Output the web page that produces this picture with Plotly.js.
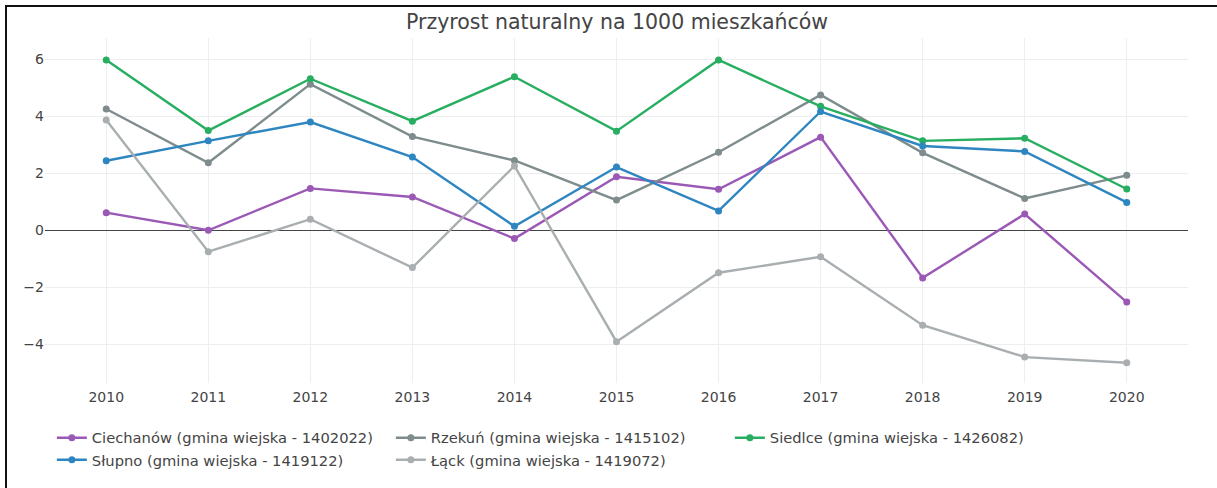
<!DOCTYPE html>
<html>
<head>
<meta charset="utf-8">
<script src="https://cdn.plot.ly/plotly-3.0.1.min.js"></script>
<style>
html,body{margin:0;padding:0;background:#fff;}
#wrap{position:relative;width:1217px;height:488px;overflow:hidden;}
#chart{position:absolute;left:0;top:0;width:1217px;height:488px;}
#frame{position:absolute;left:5px;top:5px;width:1300px;height:600px;border-left:2px solid #111;border-top:2px solid #111;pointer-events:none;}
</style>
</head>
<body>
<div id="wrap"><div id="chart"></div><div id="frame"></div></div>
<script>
const years = [2010, 2011, 2012, 2013, 2014, 2015, 2016, 2017, 2018, 2019, 2020];
const seriesNames = [
  "Ciechanów (gmina wiejska - 1402022)",
  "Rzekuń (gmina wiejska - 1415102)",
  "Siedlce (gmina wiejska - 1426082)",
  "Słupno (gmina wiejska - 1419122)",
  "Łąck (gmina wiejska - 1419072)"
];
const ciechanow = [0.62, 0.00, 1.47, 1.17, -0.29, 1.88, 1.44, 3.27, -1.67, 0.57, -2.52];
const rzekun    = [4.26, 2.37, 5.13, 3.29, 2.45, 1.06, 2.74, 4.75, 2.72, 1.12, 1.93];
const siedlce   = [5.98, 3.50, 5.32, 3.83, 5.39, 3.48, 5.98, 4.35, 3.14, 3.23, 1.45];
const slupno    = [2.44, 3.14, 3.80, 2.57, 0.14, 2.22, 0.68, 4.17, 2.96, 2.77, 0.98];
const lack      = [3.87, -0.75, 0.39, -1.31, 2.26, -3.91, -1.49, -0.93, -3.33, -4.45, -4.65];
const seriesValues = [ciechanow, rzekun, siedlce, slupno, lack];
const colors = ["#9b59b6", "#7f8c8d", "#27ae60", "#2e86c1", "#a9aeb1"];

const traces = seriesNames.map((n, i) => ({
  type: "scatter",
  mode: "lines+markers",
  name: n,
  x: years,
  y: seriesValues[i],
  line: {color: colors[i], width: 2.4},
  marker: {color: colors[i], size: 7}
}));

const layout = {
  width: 1217, height: 488,
  margin: {l: 45, r: 29, t: 38, b: 105, autoexpand: false},
  paper_bgcolor: "#fff", plot_bgcolor: "#fff",
  font: {family: "DejaVu Sans, sans-serif", color: "#444", size: 14},
  title: {text: "Przyrost naturalny na 1000 mieszkańców", x: 0.507, xanchor: "center", y: 0.955, yanchor: "middle",
          font: {size: 20.5, color: "#444"}},
  xaxis: {range: [2009.4, 2020.6], tickvals: years, ticktext: years.map(String), gridcolor: "#eee",
          zeroline: false, showline: false, tickfont: {size: 14}, ticklabelstandoff: 4},
  yaxis: {range: [-5.36, 6.75], dtick: 2, gridcolor: "#eee", zeroline: true, zerolinecolor: "#444",
          zerolinewidth: 1, showline: false, tickfont: {size: 14}},
  legend: {orientation: "h", x: 0.006, xanchor: "left", y: -0.112, yanchor: "top", font: {size: 14.7, color: "#444"},
           entrywidth: 294, entrywidthmode: "pixels"},
  showlegend: true
};
Plotly.newPlot("chart", traces, layout, {displayModeBar: false, staticPlot: true});
</script>
</body>
</html>
